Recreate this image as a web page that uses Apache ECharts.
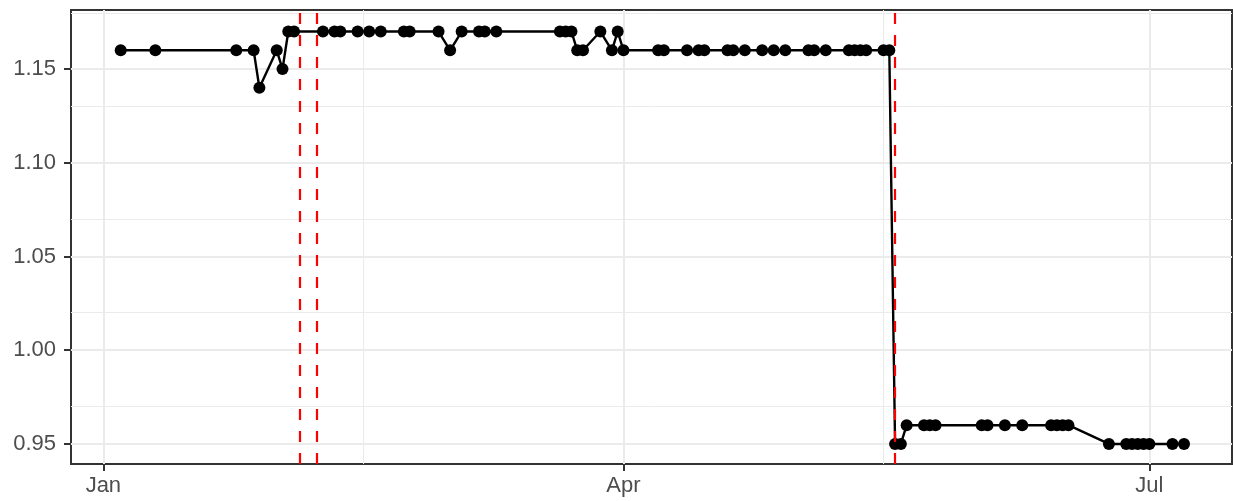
<!DOCTYPE html>
<html>
<head>
<meta charset="utf-8">
<script src="https://cdn.jsdelivr.net/npm/echarts@6/dist/echarts.min.js"></script>
<style>
  html, body { margin: 0; padding: 0; background: #ffffff; }
  #chart { width: 1233px; height: 501px; }
</style>
</head>
<body>
<div id="chart"></div>
<script>
// ---- data ----
const dates = [
  '2021-01-04','2021-01-10','2021-01-24','2021-01-27','2021-01-28','2021-01-31',
  '2021-02-01','2021-02-02','2021-02-03','2021-02-08','2021-02-10','2021-02-11',
  '2021-02-14','2021-02-16','2021-02-18','2021-02-22','2021-02-23','2021-02-28',
  '2021-03-02','2021-03-04','2021-03-07','2021-03-08','2021-03-10','2021-03-21',
  '2021-03-22','2021-03-23','2021-03-24','2021-03-25','2021-03-28','2021-03-30',
  '2021-03-31','2021-04-01','2021-04-07','2021-04-08','2021-04-12','2021-04-14',
  '2021-04-15','2021-04-19','2021-04-20','2021-04-22','2021-04-25','2021-04-27',
  '2021-04-29','2021-05-03','2021-05-04','2021-05-06','2021-05-10','2021-05-11',
  '2021-05-12','2021-05-13','2021-05-16','2021-05-17','2021-05-18','2021-05-19',
  '2021-05-20','2021-05-23','2021-05-24','2021-05-25','2021-06-02','2021-06-03',
  '2021-06-06','2021-06-09','2021-06-14','2021-06-15','2021-06-16','2021-06-17',
  '2021-06-24','2021-06-27','2021-06-28','2021-06-29','2021-06-30','2021-07-01',
  '2021-07-05','2021-07-07'
];
const values = [
  1.16,1.16,1.16,1.16,1.14,1.16,
  1.15,1.17,1.17,1.17,1.17,1.17,
  1.17,1.17,1.17,1.17,1.17,1.17,
  1.16,1.17,1.17,1.17,1.17,1.17,
  1.17,1.17,1.16,1.16,1.17,1.16,
  1.17,1.16,1.16,1.16,1.16,1.16,
  1.16,1.16,1.16,1.16,1.16,1.16,
  1.16,1.16,1.16,1.16,1.16,1.16,
  1.16,1.16,1.16,1.16,0.95,0.95,
  0.96,0.96,0.96,0.96,0.96,0.96,
  0.96,0.96,0.96,0.96,0.96,0.96,
  0.95,0.95,0.95,0.95,0.95,0.95,
  0.95,0.95
];
const eventDates = ['2021-02-04','2021-02-07','2021-05-18'];
const xTickDates = ['2021-01-01','2021-04-01','2021-07-01'];
const xTickLabels = ['Jan','Apr','Jul'];
const xMinorDates = ['2021-02-15','2021-05-16'];
const yTicks = [0.95, 1.00, 1.05, 1.10, 1.15];
const yMinor = [0.975, 1.025, 1.075, 1.125, 1.175];

// ---- helpers ----
function ts(s) {
  const p = s.split('-').map(Number);
  return Date.UTC(p[0], p[1] - 1, p[2]);
}
const DAY = 864e5;
const jan1 = ts('2021-01-01');
const xMin = jan1 - 5.6 * DAY;
const xMax = jan1 + 195.3 * DAY;

const xTickTs = xTickDates.map(ts);
function monthLabel(v) {
  let best = 0, bd = Infinity;
  xTickTs.forEach((t, i) => { const d = Math.abs(t - v); if (d < bd) { bd = d; best = i; } });
  return bd < DAY ? xTickLabels[best] : '';
}

const gridMajor = { color: '#ebebeb', width: 2, type: 'solid' };
const gridMinor = { color: '#ebebeb', width: 1, type: 'solid' };

const gridLines = []
  .concat(xTickTs.map(t => ({ xAxis: t, lineStyle: gridMajor })))
  .concat(xMinorDates.map(d => ({ xAxis: ts(d), lineStyle: gridMinor })))
  .concat(yTicks.map(v => ({ yAxis: v, lineStyle: gridMajor })))
  .concat(yMinor.map(v => ({ yAxis: v, lineStyle: gridMinor })));

const seriesData = dates.map((d, i) => [ts(d), values[i]]);

const chart = echarts.init(document.getElementById('chart'), null, { renderer: 'canvas' });
const textStyle = { color: '#4d4d4d', fontFamily: 'Liberation Sans, Arial, sans-serif', fontSize: 22 };

chart.setOption({
  animation: false,
  backgroundColor: '#ffffff',
  grid: {
    left: 71, right: 1, top: 10, bottom: 37,
    show: true, borderColor: '#333333', borderWidth: 2, backgroundColor: '#ffffff'
  },
  xAxis: {
    type: 'value',
    min: xMin, max: xMax,
    axisLine: { show: true, onZero: false, lineStyle: { color: '#333333', width: 2 } },
    axisTick: { show: true, customValues: xTickTs, length: 7, lineStyle: { color: '#333333', width: 2 } },
    axisLabel: Object.assign({
      customValues: xTickTs,
      margin: 11,
      formatter: monthLabel
    }, textStyle),
    splitLine: { show: false }
  },
  yAxis: {
    type: 'value',
    min: 0.9393, max: 1.1815,
    axisLine: { show: true, onZero: false, lineStyle: { color: '#333333', width: 2 } },
    axisTick: { show: true, customValues: yTicks, length: 7, lineStyle: { color: '#333333', width: 2 } },
    axisLabel: Object.assign({
      customValues: yTicks,
      margin: 15,
      formatter: function (v) { return Number(v).toFixed(2); }
    }, textStyle),
    splitLine: { show: false }
  },
  series: [
    {
      type: 'line',
      data: [],
      z: 1,
      silent: true,
      markLine: {
        z: 1,
        silent: true,
        symbol: ['none', 'none'],
        label: { show: false },
        animation: false,
        data: gridLines
      }
    },
    {
      type: 'line',
      data: seriesData,
      z: 3,
      symbol: 'circle',
      symbolSize: 12,
      showSymbol: true,
      itemStyle: { color: '#000000' },
      lineStyle: { color: '#000000', width: 2.4 },
      emphasis: { disabled: true }
    },
    {
      type: 'line',
      data: [],
      z: 10,
      silent: true,
      markLine: {
        z: 10,
        silent: true,
        symbol: ['none', 'none'],
        label: { show: false },
        animation: false,
        lineStyle: { color: '#ff0000', width: 2.2, type: [11, 11] },
        data: eventDates.map(d => ({ xAxis: ts(d) }))
      }
    }
  ]
});
</script>
</body>
</html>
